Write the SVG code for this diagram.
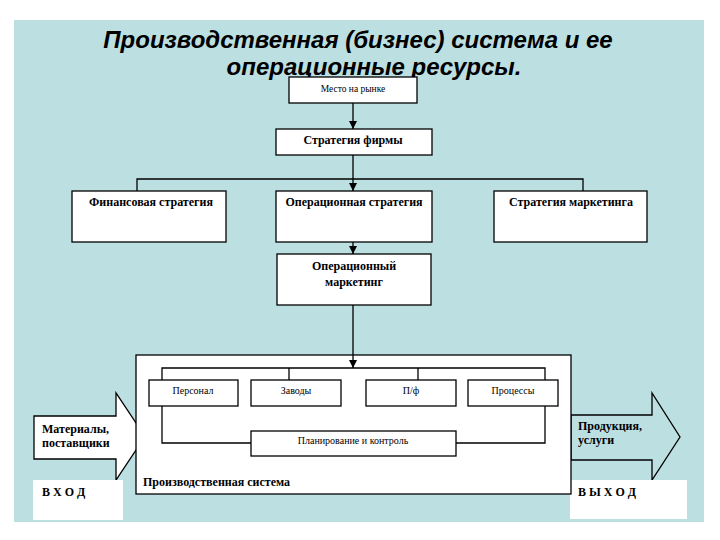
<svg xmlns="http://www.w3.org/2000/svg" width="720" height="540" viewBox="0 0 720 540">
<defs>
<style>
.box{fill:#ffffff;stroke:#000000;stroke-width:1.3}
.ln{fill:none;stroke:#000000;stroke-width:1.3}
.t{font-family:"Liberation Serif","Times New Roman",serif;fill:#000000}
.b{font-weight:bold;font-size:12px}
.s{font-size:10px}
.title{font-family:"Liberation Sans",Arial,sans-serif;font-weight:bold;font-style:italic;font-size:24px;fill:#000000}
</style>
<marker id="ah" viewBox="0 0 8 8" refX="8" refY="4" markerWidth="8" markerHeight="8" markerUnits="userSpaceOnUse" orient="auto">
<path d="M0,0 L8,4 L0,8 Z" fill="#000000"/>
</marker>
</defs>
<rect x="0" y="0" width="720" height="540" fill="#ffffff"/>
<rect x="14" y="20" width="690" height="502" fill="#bcdfe1"/>

<g id="title">
<text class="title" x="358" y="48" text-anchor="middle">Производственная (бизнес) система и ее</text>
<text class="title" x="374" y="75" text-anchor="middle">операционные ресурсы.</text>
</g>

<g id="input-arrow">
<polygon points="34,416 116,416 116,393 145,436.5 116,480 116,459 34,459" fill="#ffffff" stroke="#000000" stroke-width="1.3"/>
<text class="t b" x="42" y="433">Материалы,</text>
<text class="t b" x="42" y="447">поставщики</text>
</g>
<g id="output-arrow">
<polygon points="571,415 652,415 652,393 680,437 652,480 652,460 571,460" fill="#bcdfe1" stroke="#000000" stroke-width="1.3"/>
<text class="t b" x="578" y="430">Продукция,</text>
<text class="t b" x="578" y="444">услуги</text>
</g>
<g id="vhod">
<rect x="33" y="480" width="90" height="40" fill="#ffffff"/>
<text class="t b" x="42" y="496">В Х О Д</text>
</g>
<g id="vyhod">
<rect x="570" y="480" width="117" height="39" fill="#ffffff"/>
<text class="t b" x="578" y="496">В Ы Х О Д</text>
</g>

<g id="system">
<rect class="box" x="136" y="355" width="435" height="139"/>
<text class="t b" x="143" y="486">Производственная система</text>
</g>

<g id="connectors">
<line class="ln" x1="353" y1="103" x2="353" y2="129" marker-end="url(#ah)"/>
<polyline class="ln" points="353,155 353,179"/>
<polyline class="ln" points="137,191 137,179 583,179 583,191"/>
<line class="ln" x1="353" y1="179" x2="353" y2="191" marker-end="url(#ah)"/>
<line class="ln" x1="353" y1="242" x2="353" y2="254" marker-end="url(#ah)"/>
<line class="ln" x1="353" y1="305" x2="353" y2="368" marker-end="url(#ah)"/>
<polyline class="ln" points="162,380 162,368 545,368 545,380"/>
<line class="ln" x1="289" y1="368" x2="289" y2="380"/>
<line class="ln" x1="418" y1="368" x2="418" y2="380"/>
<polyline class="ln" points="162,406 162,443 251,443"/>
<polyline class="ln" points="545,406 545,443 456,443"/>
</g>

<g id="mesto">
<rect class="box" x="289" y="77" width="128" height="26"/>
<text class="t" x="353" y="92" text-anchor="middle" font-size="9.5">Место на рынке</text>
</g>
<g id="strategiya-firmy">
<rect class="box" x="276" y="129" width="156" height="26"/>
<text class="t b" x="353" y="144" text-anchor="middle">Стратегия фирмы</text>
</g>
<g id="fin">
<rect class="box" x="72" y="191" width="154" height="51"/>
<text class="t b" x="151" y="206" text-anchor="middle">Финансовая стратегия</text>
</g>
<g id="oper">
<rect class="box" x="276" y="191" width="156" height="51"/>
<text class="t b" x="354" y="206" text-anchor="middle">Операционная стратегия</text>
</g>
<g id="market">
<rect class="box" x="494" y="191" width="153" height="51"/>
<text class="t b" x="571" y="206" text-anchor="middle">Стратегия маркетинга</text>
</g>
<g id="oper-market">
<rect class="box" x="277" y="254" width="154" height="51"/>
<text class="t b" x="354" y="270" text-anchor="middle">Операционный</text>
<text class="t b" x="354" y="286" text-anchor="middle">маркетинг</text>
</g>
<g id="personal">
<rect class="box" x="149" y="380" width="89" height="26"/>
<text class="t s" x="193" y="394" text-anchor="middle">Персонал</text>
</g>
<g id="zavody">
<rect class="box" x="251" y="380" width="90" height="26"/>
<text class="t s" x="296" y="394" text-anchor="middle">Заводы</text>
</g>
<g id="pf">
<rect class="box" x="366" y="380" width="90" height="26"/>
<text class="t s" x="411" y="394" text-anchor="middle">П/ф</text>
</g>
<g id="processy">
<rect class="box" x="468" y="380" width="90" height="26"/>
<text class="t s" x="513" y="394" text-anchor="middle">Процессы</text>
</g>
<g id="planirovanie">
<rect class="box" x="251" y="431" width="205" height="25"/>
<text class="t s" x="353" y="444" text-anchor="middle">Планирование и контроль</text>
</g>
</svg>
